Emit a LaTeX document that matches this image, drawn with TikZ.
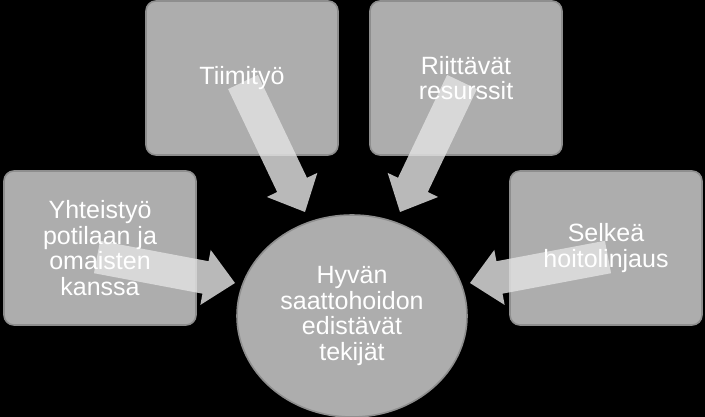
\documentclass[tikz,border=0pt]{standalone}
\usepackage{fontspec}
\setmainfont{Liberation Sans}
\usetikzlibrary{calc,shapes.geometric}
\definecolor{boxfill}{HTML}{ADADAD}
\definecolor{boxedge}{HTML}{8E8E8E}
\definecolor{arrowcol}{HTML}{E2E2E2}
\tikzset{
  boxshape/.style={draw=boxedge, line width=1.6pt, fill=boxfill, rounded corners=10pt,
    minimum width=192pt, minimum height=154pt, inner sep=0pt},
  circshape/.style={ellipse, draw=boxedge, line width=1.6pt, fill=boxfill,
    minimum width=230pt, minimum height=202pt, inner sep=0pt},
  lbl/.style={text=white, align=center, font=\fontsize{25}{25.5}\selectfont, inner sep=0pt},
  arrowfill/.style={fill=arrowcol, fill opacity=0.82},
}
\newcommand\blockarrow[2]{%
  \path coordinate (bh) at ($(#2)!30pt!(#1)$);
  \fill[arrowfill] ($(#1)!16.5pt!-90:(#2)$) -- ($(bh)!16.5pt!90:(#1)$) -- ($(bh)!28pt!90:(#1)$)
    -- (#2) -- ($(bh)!28pt!-90:(#1)$) -- ($(bh)!16.5pt!-90:(#1)$) -- ($(#1)!16.5pt!90:(#2)$) -- cycle;
}
\begin{document}
\begin{tikzpicture}[x=1pt,y=-1pt]
\fill[black] (0,0) rectangle (705,417);
\useasboundingbox (0,0) rectangle (705,417);
% boxes
\node[boxshape] (b1) at (242,78) {};
\node[boxshape] (b2) at (466,78) {};
\node[boxshape] (b3) at (100,248) {};
\node[boxshape] (b4) at (606,248) {};
\node[circshape] (c) at (352,316) {};
% arrow anchors
\coordinate (s1) at (243,82);  \coordinate (t1) at (305,212);
\coordinate (s2) at (462,82);  \coordinate (t2) at (400,212);
\coordinate (s3) at (97,257);  \coordinate (t3) at (235,283);
\coordinate (s4) at (608,257); \coordinate (t4) at (470,283);
\blockarrow{s1}{t1}
\blockarrow{s2}{t2}
\blockarrow{s3}{t3}
\blockarrow{s4}{t4}
% labels
\node[lbl] (l1) at (b1) {Tiimityö};
\node[lbl] (l2) at (b2) {Riittävät\\resurssit};
\node[lbl] (l3) at (b3) {Yhteistyö\\potilaan ja\\omaisten\\kanssa};
\node[lbl] (l4) at (b4) {Selkeä\\hoitolinjaus};
\node[lbl] (l5) at (c) {Hyvän\\saattohoidon\\edistävät\\tekijät};
\end{tikzpicture}
\end{document}
